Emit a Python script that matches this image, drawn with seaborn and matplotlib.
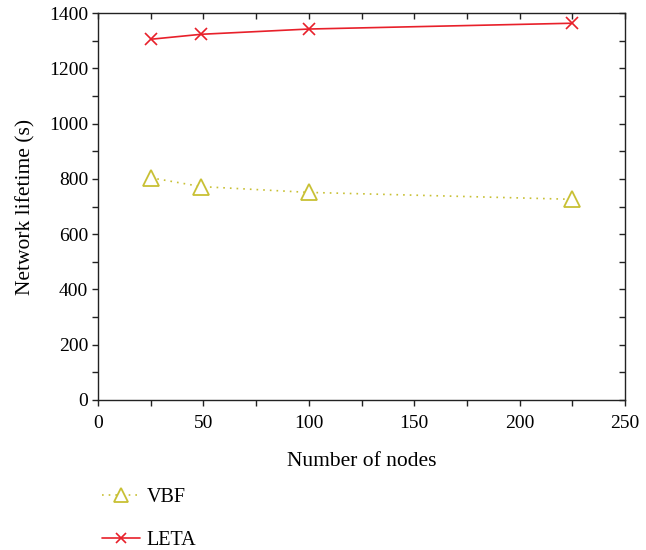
import numpy as np
import pandas as pd
import matplotlib
matplotlib.use("Agg")
import matplotlib.pyplot as plt
import seaborn as sns
from matplotlib.ticker import MultipleLocator

# data
nodes = [25, 49, 100, 225]
vbf_lifetime = [804, 772, 751, 726]
leta_lifetime = [1305, 1323, 1342, 1363]

df = pd.DataFrame({
    "nodes": nodes * 2,
    "lifetime": vbf_lifetime + leta_lifetime,
    "protocol": ["VBF"] * len(nodes) + ["LETA"] * len(nodes),
})

sns.set_theme(style="white")
plt.rcParams["font.family"] = ["Liberation Serif", "DejaVu Serif"]
plt.rcParams["text.color"] = "black"
plt.rcParams["axes.labelcolor"] = "black"

fig = plt.figure(figsize=(6.46, 5.5), dpi=100)
ax = fig.add_axes([98 / 646, 1 - 400 / 550, 527 / 646, 387 / 550])

colors = {"VBF": "#c8c034", "LETA": "#e8202a"}

sns.lineplot(data=df[df.protocol == "VBF"], x="nodes", y="lifetime", ax=ax,
             color=colors["VBF"], linestyle=(0, (1, 3)), linewidth=1.2,
             marker="^", markersize=12, markerfacecolor="white",
             markeredgecolor=colors["VBF"], markeredgewidth=1.3, label="VBF")
sns.lineplot(data=df[df.protocol == "LETA"], x="nodes", y="lifetime", ax=ax,
             color=colors["LETA"], linewidth=1.2,
             marker="x", markersize=9, markeredgewidth=1.2,
             markeredgecolor=colors["LETA"], label="LETA")

ax.set_xlim(0, 250)
ax.set_ylim(0, 1400)
ax.xaxis.set_major_locator(MultipleLocator(50))
ax.xaxis.set_minor_locator(MultipleLocator(25))
ax.yaxis.set_major_locator(MultipleLocator(200))
ax.yaxis.set_minor_locator(MultipleLocator(100))

for s in ax.spines.values():
    s.set_color("#222222")
    s.set_linewidth(1.0)

ax.tick_params(which="both", direction="out", length=4, width=1, color="#222222",
               bottom=True, left=True, labelsize=14, labelcolor="black", pad=3)
ax.tick_params(axis="x", which="major", pad=7)
sec_x = ax.secondary_xaxis("top")
sec_x.xaxis.set_major_locator(MultipleLocator(25))
sec_x.tick_params(direction="in", length=4, width=1, color="#222222", labeltop=False)
sec_x.spines["top"].set_visible(False)
sec_y = ax.secondary_yaxis("right")
sec_y.yaxis.set_major_locator(MultipleLocator(100))
sec_y.tick_params(direction="in", length=4, width=1, color="#222222", labelright=False)
sec_y.spines["right"].set_visible(False)

ax.set_xlabel("Number of nodes", fontsize=15.5, labelpad=14)
ax.set_ylabel("Network lifetime (s)", fontsize=15.5, labelpad=10)

ax.legend(loc="upper left", bbox_to_anchor=(94 / 646, 1 - 480 / 550),
          bbox_transform=fig.transFigure, frameon=False, fontsize=14.5,
          handlelength=1.9, labelspacing=1.2, borderaxespad=0, handletextpad=0.3,
          markerscale=0.85)

fig.savefig("out.png", dpi=100)
